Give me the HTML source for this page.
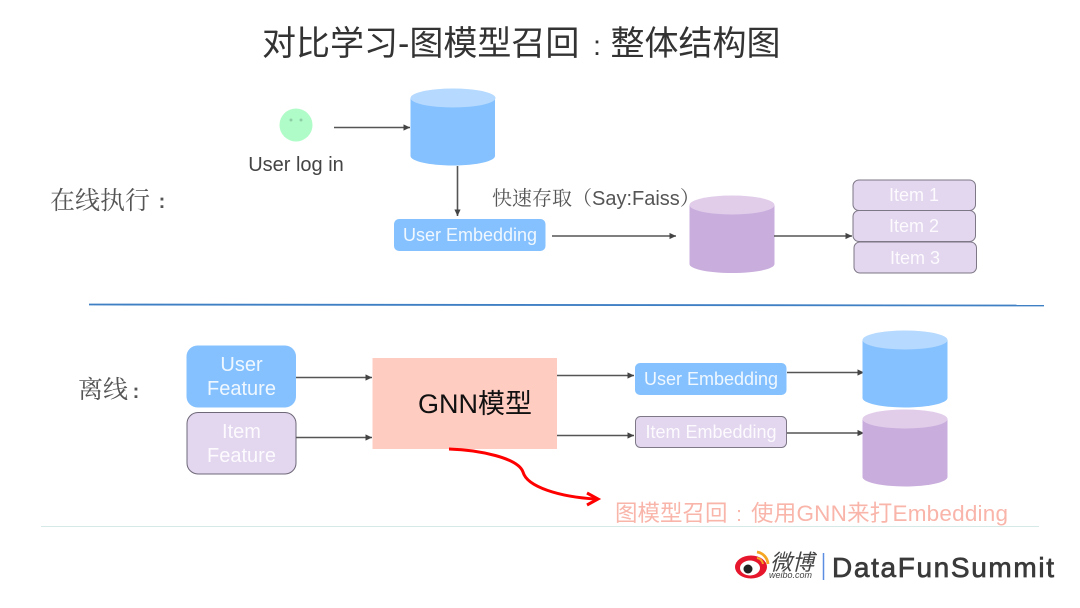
<!DOCTYPE html>
<html><head><meta charset="utf-8">
<style>
html,body{margin:0;padding:0;background:#fff}
svg{display:block}
text{font-family:"Liberation Sans","Noto Sans CJK SC",sans-serif}
text.s{font-family:"Noto Serif CJK SC","Noto Serif CJK JP",serif}
tspan.t{font-family:"Liberation Sans",sans-serif}
.w{fill:#fff;text-anchor:middle;fill-opacity:.88}
.l{stroke:#555;stroke-width:1.6;fill:none}
</style></head><body>
<svg width="1080" height="608" viewBox="0 0 1080 608" xmlns="http://www.w3.org/2000/svg">
<defs>
<marker id="a" markerWidth="8" markerHeight="8" refX="6.5" refY="3.500" orient="auto" markerUnits="userSpaceOnUse"><path d="M0 .4L6.6 3.500L0 6.600z" fill="#444"/></marker>
</defs>
<rect width="1080" height="608" fill="#fff"/>
<text x="262" y="55" font-size="34" fill="#333">对比学习-图模型召回</text>
<text x="597" y="55" font-size="28" fill="#333" text-anchor="middle">:</text>
<text x="610.500" y="55" font-size="34" fill="#333">整体结构图</text>

<!-- online -->
<circle cx="296" cy="125" r="16.500" fill="#b0fcc8"/>
<circle cx="291" cy="120" r="1.500" fill="#8fcfa5"/><circle cx="301" cy="120" r="1.500" fill="#8fcfa5"/>
<text x="296" y="171" font-size="20" fill="#444" text-anchor="middle">User log in</text>
<path class="l" d="M334 127.500H410" marker-end="url(#a)"/>
<path d="M410.500 98V156C410.500 161 429 165.500 453 165.500S495 161 495 156V98z" fill="#85c1ff"/>
<ellipse cx="453" cy="98" rx="42.500" ry="9.500" fill="#b5d9ff"/>
<path class="l" d="M457.500 166V216" marker-end="url(#a)"/>
<rect x="394" y="219" width="151.500" height="32" rx="5" fill="#85c1ff"/>
<text class="w" x="470" y="241" font-size="18">User Embedding</text>
<path class="l" d="M552 236H676" marker-end="url(#a)"/>
<text class="s" x="492" y="205" font-size="20" fill="#555">快速存取（<tspan class="t">Say:Faiss</tspan>）</text>
<path d="M689.500 205V264C689.500 269 708 273 732 273S774.500 269 774.500 264V205z" fill="#c9aedd"/>
<ellipse cx="732" cy="205" rx="42.500" ry="9.500" fill="#e1cdea"/>
<path class="l" d="M774 236H852" marker-end="url(#a)"/>
<g fill="#e3d6ef" stroke="#7d7786" stroke-width="1">
<rect x="853" y="180" width="122.500" height="30.500" rx="6"/>
<rect x="853" y="210.500" width="122.500" height="31" rx="6"/>
<rect x="854" y="242" width="122.500" height="31" rx="6"/>
</g>
<text class="w" x="914" y="201" font-size="18">Item 1</text>
<text class="w" x="914" y="232" font-size="18">Item 2</text>
<text class="w" x="915" y="264" font-size="18">Item 3</text>
<text class="s" x="50" y="209" font-size="25" fill="#555">在线执行</text>
<text x="162" y="208" font-size="20" font-weight="bold" fill="#555" text-anchor="middle">:</text>

<line x1="89" y1="304.500" x2="1044" y2="305.500" stroke="#3f7fc4" stroke-width="1.800"/>

<!-- offline -->
<text class="s" x="78" y="398" font-size="25" fill="#555">离线</text>
<text x="136" y="398" font-size="20" font-weight="bold" fill="#555" text-anchor="middle">:</text>
<rect x="186.500" y="345.500" width="109.500" height="62" rx="11" fill="#85c1ff"/>
<text class="w" x="241.500" y="371" font-size="20">User</text>
<text class="w" x="241.500" y="395" font-size="20">Feature</text>
<rect x="187" y="412.500" width="109" height="61.500" rx="11" fill="#e3d6ef" stroke="#6e6878" stroke-width="1"/>
<text class="w" x="241.500" y="438" font-size="20">Item</text>
<text class="w" x="241.500" y="462" font-size="20">Feature</text>
<path class="l" d="M296 377.500H372" marker-end="url(#a)"/>
<path class="l" d="M296 437.500H372" marker-end="url(#a)"/>
<rect x="372.500" y="358" width="184.500" height="91" fill="#ffccc2"/>
<text x="418" y="413" font-size="27" fill="#111">GNN模型</text>
<path class="l" d="M557 375.500H634" marker-end="url(#a)"/>
<path class="l" d="M557 435.500H634" marker-end="url(#a)"/>
<rect x="635" y="363" width="151.500" height="32" rx="5" fill="#85c1ff"/>
<text class="w" x="711" y="385" font-size="18">User Embedding</text>
<rect x="635.500" y="416.500" width="151" height="31" rx="5" fill="#e3d6ef" stroke="#7d7786" stroke-width="1"/>
<text class="w" x="711" y="438" font-size="18">Item Embedding</text>
<path class="l" d="M787 372.500H864" marker-end="url(#a)"/>
<path class="l" d="M787 433H864" marker-end="url(#a)"/>
<path d="M862.500 340V398C862.500 403 881 407.500 905 407.500S947.500 403 947.500 398V340z" fill="#85c1ff"/>
<ellipse cx="905" cy="340" rx="42.500" ry="9.500" fill="#b5d9ff"/>
<path d="M862.500 419V477C862.500 482 881 486.500 905 486.500S947.500 482 947.500 477V419z" fill="#c9aedd"/>
<ellipse cx="905" cy="419" rx="42.500" ry="9.500" fill="#e1cdea"/>

<!-- red curve -->
<path d="M449 449C480 450 518 458 523 472C527 487 560 497 596 499" fill="none" stroke="#f00" stroke-width="3"/>
<path d="M587 493L598 499L587 505" fill="none" stroke="#f00" stroke-width="3"/>
<text x="615" y="521" font-size="22.500" fill="#f9b5aa">图模型召回</text>
<text x="739" y="521" font-size="20" fill="#f9b5aa" text-anchor="middle">:</text>
<text x="751" y="521" font-size="22.500" fill="#f9b5aa" textLength="257">使用GNN来打Embedding</text>
<line x1="41" y1="526.500" x2="1039" y2="526.500" stroke="#d5eae6" stroke-width="1"/>

<!-- logo -->
<ellipse cx="751" cy="567" rx="16" ry="11.500" fill="#e6162d"/>
<ellipse cx="750" cy="568" rx="10" ry="7.500" fill="#fff"/>
<circle cx="748" cy="569" r="4.500" fill="#222"/>
<path d="M757 552A13 13 0 0 1 768 564" fill="none" stroke="#f5a623" stroke-width="2.800"/>
<path d="M757 558A7 7 0 0 1 763 564" fill="none" stroke="#f5a623" stroke-width="2"/>
<text x="770" y="570" font-size="22" font-style="italic" fill="#444">微博</text>
<text x="769" y="578" font-size="9" font-style="italic" fill="#444">weibo.com</text>
<line x1="823.500" y1="553" x2="823.500" y2="580" stroke="#5b8de0" stroke-width="1.500"/>
<text x="832" y="577" font-size="28" fill="#3a3a3a" stroke="#3a3a3a" stroke-width=".7" textLength="222">DataFunSummit</text>
</svg>
</body></html>
